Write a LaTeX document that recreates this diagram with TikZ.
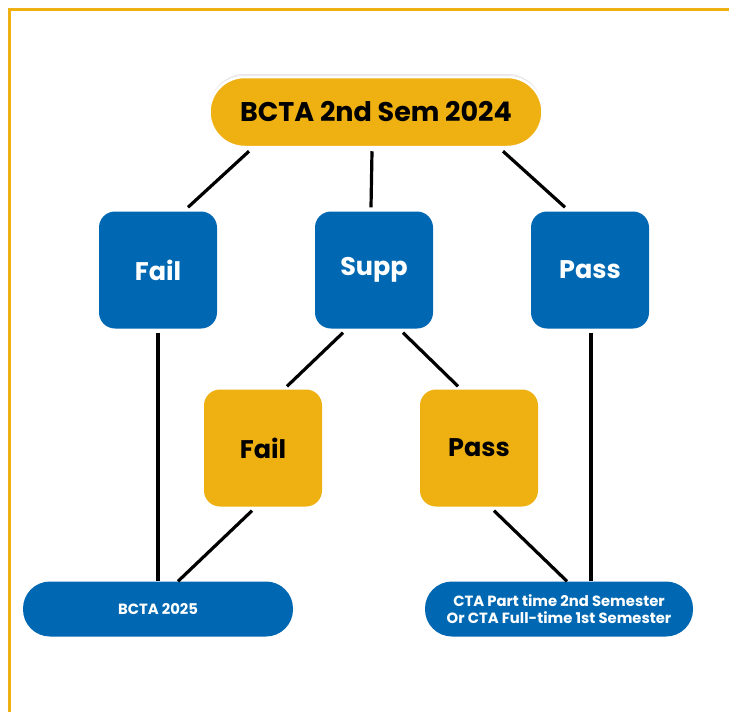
\documentclass[tikz,border=0pt]{standalone}
\usepackage{fontspec}
\setmainfont{Poppins}
\usepackage{xcolor}
\usetikzlibrary{calc}
\usetikzlibrary{shadows}

\definecolor{ctayellow}{HTML}{EEB111}
\definecolor{ctablue}{HTML}{0068B2}

\tikzset{
  outcome/.style={rounded corners=16pt, minimum width=118pt, minimum height=117pt,
    inner sep=0pt, font=\fontsize{25.5}{28}\selectfont\bfseries},
  bluebox/.style={outcome, fill=ctablue, text=white},
  yellowbox/.style={outcome, fill=ctayellow, text=black},
  pill/.style={rounded corners=27pt, minimum width=270pt, minimum height=55pt,
    inner sep=0pt, fill=ctablue, text=white, align=center,
    font=\fontsize{14.8}{17.5}\selectfont\bfseries},
  link/.style={black, line width=3.2pt}
}

\begin{document}
\begin{tikzpicture}[x=1pt,y=-1pt]

\useasboundingbox (0,0) rectangle (729,712);
\fill[white] (0,0) rectangle (729,712);

% frame
\draw[ctayellow, line width=3pt] (9,712) -- (9,9) -- (729,9);

% top
\node[rounded corners=35pt, minimum width=333pt, minimum height=70pt, inner sep=0pt,
  fill=ctayellow, draw=white, line width=2.5pt,
  drop shadow={shadow xshift=0pt, shadow yshift=3pt, opacity=0.18},
  font=\fontsize{27}{30}\selectfont\bfseries] (sem) at (376,112) {BCTA 2nd Sem 2024};

\node[bluebox] (fail) at (158,270) {Fail};
\node[bluebox] (supp) at (374,270) {Supp};
\node[bluebox] (pass) at (590,270) {Pass};

\node[yellowbox] (suppfail) at (263,448) {Fail};
\node[yellowbox] (supppass) at (479,448) {Pass};

\node[pill] (bcta) at (158,609) {BCTA 2025};
\node[pill, minimum width=268pt] (cta) at (559,609) {CTA Part time 2nd Semester\\Or CTA Full-time 1st Semester};

% connectors
\draw[link] ([xshift=-127pt,yshift=-3pt]sem.south) -- ([xshift=30pt,yshift=4pt]fail.north);
\draw[link] ([xshift=-4pt,yshift=-3pt]sem.south) -- ([xshift=-3pt,yshift=4pt]supp.north);
\draw[link] ([xshift=127pt,yshift=-3pt]sem.south) -- ([xshift=-25pt,yshift=4pt]pass.north);

\draw[link] ([yshift=-4pt]fail.south) -- (bcta.north);
\draw[link] ([xshift=-31pt,yshift=-4pt]supp.south) -- ([xshift=24pt,yshift=3pt]suppfail.north);
\draw[link] ([xshift=29pt,yshift=-4pt]supp.south) -- ([xshift=-21pt,yshift=3pt]supppass.north);
\draw[link] ([xshift=-11pt,yshift=-4pt]suppfail.south) -- ([xshift=20pt]bcta.north);
\draw[link] ([xshift=15pt,yshift=-4pt]supppass.south) -- ([xshift=8pt]cta.north);
\draw[link] ([xshift=1pt,yshift=-4pt]pass.south) -- ([xshift=32pt]cta.north);

\end{tikzpicture}
\end{document}
